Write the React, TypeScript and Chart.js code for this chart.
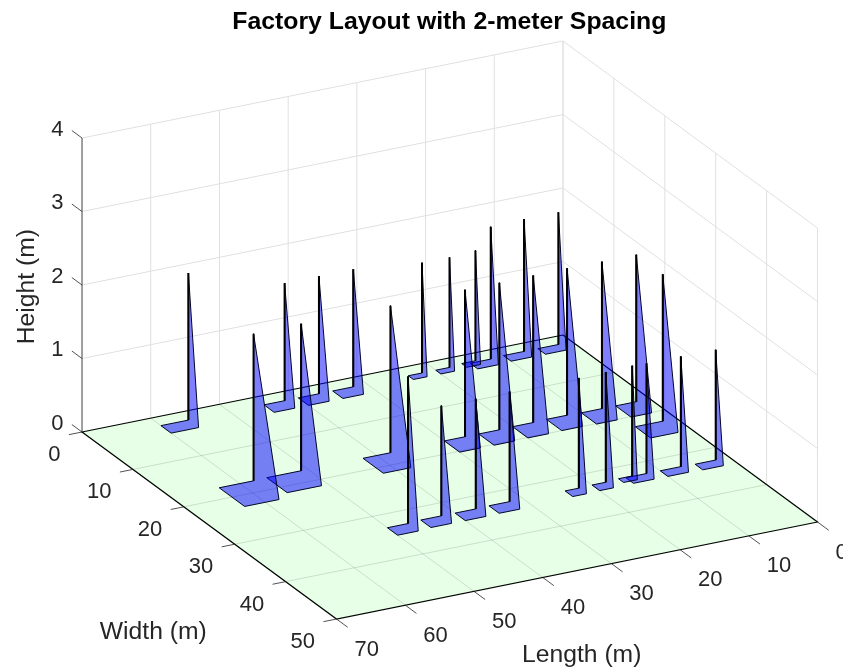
import React, { useEffect, useRef } from "react";
import { Chart, registerables } from "chart.js";

Chart.register(...registerables);

const chartTitle = "Factory Layout with 2-meter Spacing";
const lengthLabel = "Length (m)";
const widthLabel = "Width (m)";
const heightLabel = "Height (m)";

const lengthTicks = [0, 10, 20, 30, 40, 50, 60, 70];
const widthTicks = [0, 10, 20, 30, 40, 50];
const heightTicks = [0, 1, 2, 3, 4];

// Machines: corner position on the floor, footprint and peak height
const machineL = [56, 42, 37, 32, 22, 18, 14, 12, 7, 2, 58, 51, 38, 27, 22, 17, 12, 7, 2, 2, 47, 42, 37, 32, 22, 18, 14, 12, 7, 2];
const machineW = [2, 2, 2, 2, 2, 2, 1.7, 2, 1.8, 1.8, 17.5, 17.4, 17.4, 17.2, 17.2, 17.1, 17, 17.1, 17.1, 22.3, 33, 32.8, 32.8, 32.7, 32.8, 32.7, 32.5, 32.6, 32.6, 32.7];
const sizeL = [4, 3, 3, 3, 2, 2, 2, 3, 3, 3, 5, 5, 4, 3, 3, 3, 3, 3, 3, 4, 3, 3, 3, 3, 2, 2, 2, 3, 3, 3];
const sizeW = [2, 2, 2, 2, 1, 1, 1, 1.5, 1.5, 1.5, 5, 4, 4, 3, 3, 3, 3, 3, 3, 3, 2, 2, 2, 2, 1.5, 1.5, 1, 1.5, 1.5, 1.5];
const peakH = [2, 1.6, 1.6, 1.6, 1.5, 1.5, 1.5, 1.8, 1.8, 1.8, 2, 2, 2, 2, 2, 2, 2, 2, 2, 2, 2, 1.5, 1.5, 1.5, 1.5, 1.5, 1.5, 1.5, 1.5, 1.5];

const MAX_L = 70;
const MAX_W = 50;
const MAX_H = 4;

// Orthographic view of the MATLAB axes box
const project = (l: number, w: number, h: number) => ({
  x: 563 - 6.871 * l + 5.09 * w,
  y: 335 + 1.386 * l + 3.74 * w - 73.5 * h,
});

const GRID = "rgb(224,224,224)";
const FLOOR_GRID = "rgba(38,38,38,0.15)";
const AXIS = "rgb(38,38,38)";

const path = (pts: number[][], color: string, width: number, extra: object = {}) => ({
  data: pts.map(([l, w, h]) => project(l, w, h)),
  borderColor: color,
  borderWidth: width,
  showLine: true,
  pointRadius: 0,
  tension: 0,
  fill: false,
  ...extra,
});

function buildDatasets() {
  const ds: any[] = [];
  // back walls
  for (const l of lengthTicks) ds.push(path([[l, 0, 0], [l, 0, MAX_H]], GRID, 1));
  for (const w of widthTicks) ds.push(path([[0, w, 0], [0, w, MAX_H]], GRID, 1));
  for (const h of heightTicks.slice(1)) {
    ds.push(path([[MAX_L, 0, h], [0, 0, h], [0, MAX_W, h]], GRID, 1));
  }
  // floor
  ds.push(
    path([[0, 0, 0], [MAX_L, 0, 0], [MAX_L, MAX_W, 0], [0, MAX_W, 0], [0, 0, 0]], "rgb(10,15,10)", 1, {
      fill: "shape",
      backgroundColor: "rgb(230,255,230)",
      borderColor: "rgba(0,0,0,0)",
    })
  );
  for (const l of lengthTicks.slice(1, -1)) ds.push(path([[l, 0, 0], [l, MAX_W, 0]], FLOOR_GRID, 1));
  for (const w of widthTicks.slice(1, -1)) ds.push(path([[0, w, 0], [MAX_L, w, 0]], FLOOR_GRID, 1));
  ds.push(path([[0, 0, 0], [MAX_L, 0, 0], [MAX_L, MAX_W, 0], [0, MAX_W, 0], [0, 0, 0]], "rgb(0,5,0)", 1.2));

  // axes + ticks
  ds.push(path([[MAX_L, 0, 0], [MAX_L, 0, MAX_H]], AXIS, 0.8));
  for (const h of heightTicks) ds.push(path([[MAX_L, -2, h], [MAX_L, 0, h]], AXIS, 0.8));
  for (const w of widthTicks) ds.push(path([[MAX_L + 1.9, w, 0], [MAX_L, w, 0]], AXIS, 0.8));
  for (const l of lengthTicks) ds.push(path([[l, MAX_W, 0], [l, MAX_W + 2.2, 0]], AXIS, 0.8));

  // machines, back to front
  const order = machineL
    .map((_, i) => i)
    .sort((a, b) => project(machineL[a], machineW[a], 0).y - project(machineL[b], machineW[b], 0).y);
  for (const i of order) {
    const l = machineL[i];
    const w = machineW[i];
    const l2 = l + sizeL[i];
    const w2 = w + sizeW[i];
    ds.push(
      path(
        [[l, w, peakH[i]], [l, w, 0], [l2, w, 0], [l2, w2, 0], [l, w2, 0], [l, w, peakH[i]]],
        "rgb(5,5,40)",
        1,
        { fill: "shape", backgroundColor: "rgba(0,0,255,0.5)" }
      )
    );
    ds.push(path([[l, w, peakH[i]], [l, w, 0]], "rgb(0,0,0)", 2));
  }
  // Chart.js paints the first dataset last
  return ds.map((d, i) => ({ ...d, order: -i }));
}

const FONT = "'Liberation Sans', Arial, sans-serif";

const textPlugin = {
  id: "axisText",
  afterDraw(chart: any) {
    const { ctx, scales } = chart;
    const at = (l: number, w: number, h: number) => {
      const p = project(l, w, h);
      return { x: scales.x.getPixelForValue(p.x), y: scales.y.getPixelForValue(p.y) };
    };
    ctx.save();
    ctx.fillStyle = AXIS;
    ctx.textBaseline = "alphabetic";
    ctx.font = `22px ${FONT}`;
    ctx.textAlign = "right";
    for (const h of heightTicks) {
      const p = at(MAX_L, 0, h);
      ctx.fillText(String(h), p.x - 18.5, p.y - 2.4);
    }
    for (const w of widthTicks) {
      const p = at(MAX_L, w, 0);
      ctx.fillText(String(w), p.x - 21.5, p.y + 29);
    }
    ctx.textAlign = "left";
    for (const l of lengthTicks) {
      const p = at(l, MAX_W, 0);
      ctx.fillText(String(l), p.x + 18, p.y + 36.5);
    }
    ctx.font = `24.7px ${FONT}`;
    ctx.textAlign = "center";
    ctx.fillText(widthLabel, 153.3, 639.3);
    ctx.fillText(lengthLabel, 581.7, 661.7);
    ctx.save();
    ctx.translate(33.5, 286.7);
    ctx.rotate(-Math.PI / 2);
    ctx.fillText(heightLabel, 0, 0);
    ctx.restore();
    ctx.fillStyle = "#000";
    ctx.font = `bold 24.8px ${FONT}`;
    ctx.fillText(chartTitle, 449.3, 28.7);
    ctx.restore();
  },
};

export default function App() {
  const ref = useRef<HTMLCanvasElement>(null);
  useEffect(() => {
    const chart = new Chart(ref.current as HTMLCanvasElement, {
      type: "scatter",
      data: { datasets: buildDatasets() },
      options: {
        animation: false,
        responsive: false,
        layout: { padding: 0 },
        plugins: { legend: { display: false }, tooltip: { enabled: false }, title: { display: false } },
        scales: {
          x: { type: "linear", min: 0, max: 843, display: false },
          y: { type: "linear", min: 0, max: 668, reverse: true, display: false },
        },
      },
      plugins: [textPlugin],
    } as any);
    return () => chart.destroy();
  }, []);
  return (
    <canvas
      ref={ref}
      width={843}
      height={668}
      style={{ position: "absolute", left: 0, top: 0, display: "block" }}
    />
  );
}
